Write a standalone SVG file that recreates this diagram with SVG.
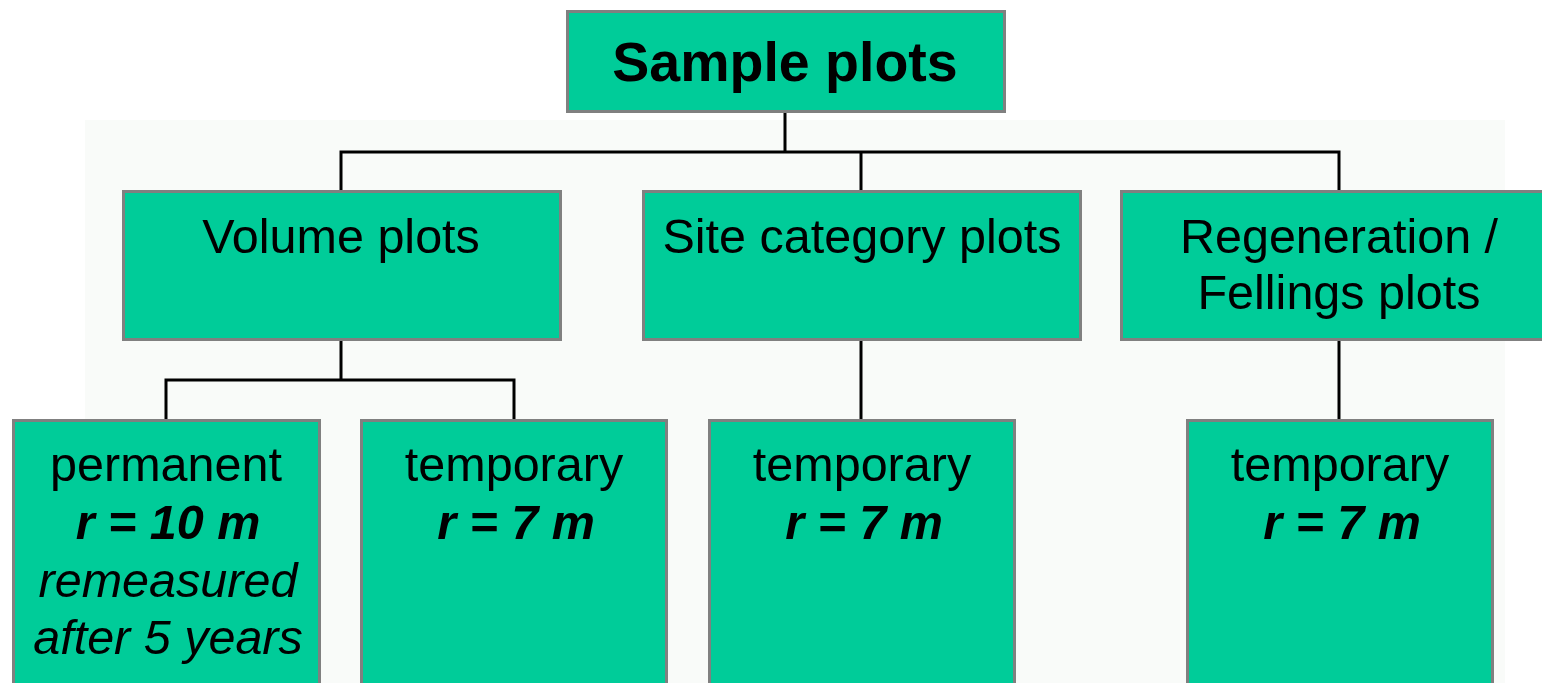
<svg xmlns="http://www.w3.org/2000/svg" width="1542" height="683" viewBox="0 0 1542 683">
<style>
.box{fill:#00cc99;stroke:#808080;stroke-width:3}
.t{font-family:"Liberation Sans",Arial,sans-serif;font-size:48.5px;fill:#000;text-anchor:middle}
.title{font-weight:bold;font-size:55.5px}
.bi{font-weight:bold;font-style:italic}
.i{font-style:italic}
.conn{stroke:#000;stroke-width:3;fill:none}
</style>
<rect width="1542" height="683" fill="#ffffff"/>
<rect x="85" y="120" width="1420" height="563" fill="#f9fbf9"/>
<g id="connectors">
<path class="conn" d="M785 112V152M341 191V152H1339V191M861 152V191"/>
<path class="conn" d="M341 340V380M166 420V380H514V420"/>
<path class="conn" d="M861 340V420"/>
<path class="conn" d="M1339 340V420"/>
</g>
<g id="sample-plots">
<rect class="box" x="567.5" y="11.5" width="437" height="100"/>
<text class="t title" x="785" y="81">Sample plots</text>
</g>
<g id="volume-plots">
<rect class="box" x="123.5" y="191.5" width="437" height="148"/>
<text class="t" x="341" y="253">Volume plots</text>
</g>
<g id="site-category-plots">
<rect class="box" x="643.5" y="191.5" width="437" height="148"/>
<text class="t" x="862" y="253">Site category plots</text>
</g>
<g id="regeneration-plots">
<rect class="box" x="1121.5" y="191.5" width="440" height="148"/>
<text class="t" x="1339" y="253">Regeneration /</text>
<text class="t" x="1339" y="309">Fellings plots</text>
</g>
<g id="permanent">
<rect class="box" x="13.5" y="420.5" width="306" height="280"/>
<text class="t" x="166" y="481">permanent</text>
<text class="t bi" x="168" y="539">r = 10 m</text>
<text class="t i" x="168" y="597">remeasured</text>
<text class="t i" x="168" y="654">after 5 years</text>
</g>
<g id="temporary-volume">
<rect class="box" x="361.5" y="420.5" width="305" height="280"/>
<text class="t" x="514" y="481">temporary</text>
<text class="t bi" x="516" y="539">r = 7 m</text>
</g>
<g id="temporary-site">
<rect class="box" x="709.5" y="420.5" width="305" height="280"/>
<text class="t" x="862" y="481">temporary</text>
<text class="t bi" x="864" y="539">r = 7 m</text>
</g>
<g id="temporary-regeneration">
<rect class="box" x="1187.5" y="420.5" width="305" height="280"/>
<text class="t" x="1340" y="481">temporary</text>
<text class="t bi" x="1342" y="539">r = 7 m</text>
</g>
</svg>
